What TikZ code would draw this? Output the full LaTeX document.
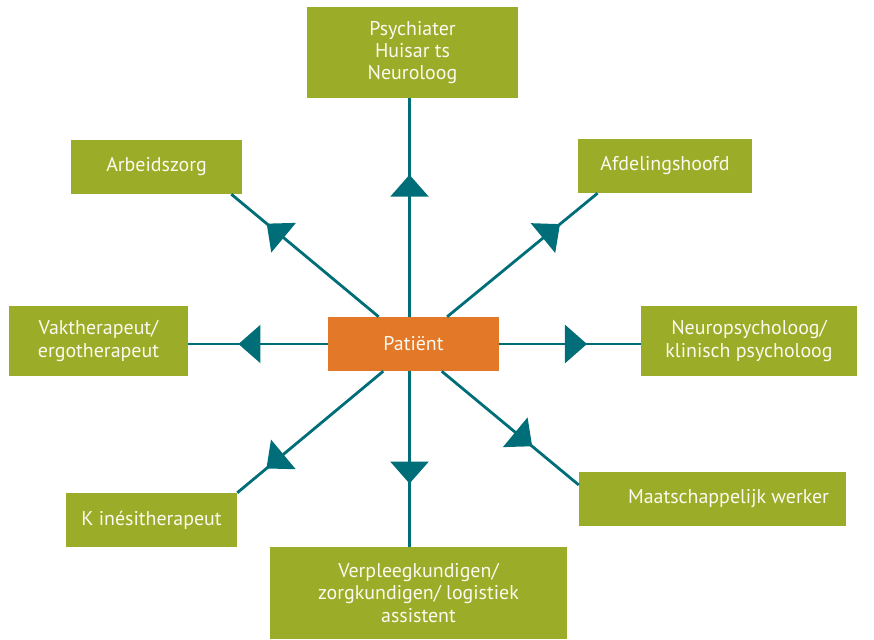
\documentclass[tikz,border=0pt]{standalone}
\usepackage{fontspec}
\setmainfont{PT Sans}
\usetikzlibrary{arrows.meta,decorations.markings,calc}
\definecolor{boxgreen}{HTML}{9BAD28}
\definecolor{patorange}{HTML}{E37828}
\definecolor{linkteal}{HTML}{006E78}
\definecolor{boxtext}{HTML}{FAFAF0}

\begin{document}
\begin{tikzpicture}[x=0.03cm,y=-0.03cm,
    box/.style={fill=boxgreen,text=boxtext,align=center,inner sep=0pt,
      font=\fontsize{17}{18.8}\selectfont},
    link/.style={linkteal,line width=2.4pt},
    tip/.style={postaction={decorate,decoration={markings,
      mark=at position #1 with {\arrow{Triangle[length=6.6mm,width=11.4mm]}}}}}]
      \useasboundingbox (0,0) rectangle (874,639);
      % boxes
      \node[box,minimum width=6.33cm,minimum height=2.73cm] (psy) at (412.5,52.5) {Psychiater\\Huisar ts\\Neuroloog};
      \node[box,minimum width=5.13cm,minimum height=1.62cm] (arb) at (156.5,167) {Arbeidszorg};
      \node[box,minimum width=5.22cm,minimum height=1.62cm] (afd) at (665,166) {Afdelingshoofd};
      \node[box,minimum width=5.37cm,minimum height=2.1cm] (vak) at (98.5,341) {Vaktherapeut/\\ergotherapeut};
      \node[box,fill=patorange,minimum width=5.13cm,minimum height=1.62cm] (pat) at (413.5,344) {Patiënt};
      \node[box,minimum width=6.48cm,minimum height=2.1cm] (neuro) at (749,341) {Neuropsycholoog/\\klinisch psycholoog};
      \node[box,minimum width=5.13cm,minimum height=1.62cm] (kin) at (151.5,520) {K inésitherapeut};
      \node[box,minimum width=8.01cm,minimum height=1.62cm] (maat) at (712.5,499) {\hspace*{0.96cm}Maatschappelijk werker};
      \node[box,minimum width=8.91cm,minimum height=2.76cm] (verp) at (418.5,593) {Verpleegkundigen/\\zorgkundigen/ logistiek\\assistent};
      \coordinate (vx) at (409.5,0);
      % connectors
      \draw[link,tip=0.65] (pat.north -| vx) -- (psy.south -| vx);
      \draw[link,tip=0.64] (pat.south -| vx) -- (verp.north -| vx);
      \draw[link,tip=0.64] (pat.west) -- (pat.west -| vak.east);
      \draw[link,tip=0.62] (pat.east) -- (pat.east -| neuro.west);
      \draw[link,tip=0.76] (pat.142) -- (arb.340);
      \draw[link,tip=0.75] (pat.39) -- (afd.202);
      \draw[link,tip=0.80] (pat.222.5) -- (kin.north east);
      \draw[link,tip=0.66] (pat.316.5) -- (maat.174);
\end{tikzpicture}
\end{document}
